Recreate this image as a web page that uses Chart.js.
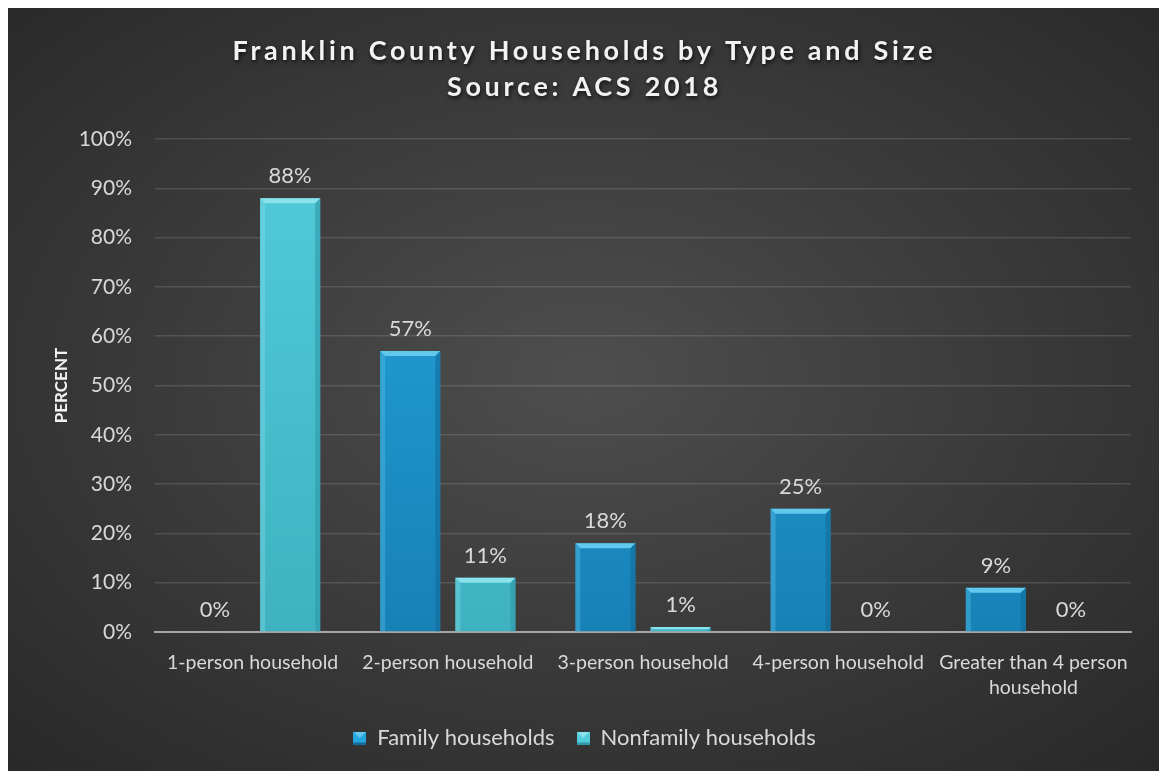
<!DOCTYPE html>
<html>
<head>
<meta charset="utf-8">
<script src="https://cdn.jsdelivr.net/npm/chart.js@4.4.1/dist/chart.umd.min.js"></script>
<style>
  html, body { margin: 0; padding: 0; background: #ffffff; overflow: hidden; }
  #frame {
    position: fixed; left: 8px; top: 8px; right: 0; bottom: 0;
    background: radial-gradient(ellipse 75% 75% at 50% 48%, #4e4e4e 0%, #3c3c3c 45%, #272727 100%);
  }
</style>
</head>
<body>
<div id="frame"><canvas id="households"></canvas></div>
<script>
const categories = [
  "1-person household",
  "2-person household",
  "3-person household",
  "4-person household",
  ["Greater than 4 person", "household"]
];
const familyValues = [0, 57, 18, 25, 9];
const nonfamilyValues = [88, 11, 1, 0, 0];
const yTicks = [0, 10, 20, 30, 40, 50, 60, 70, 80, 90, 100];
const titleLines = ["Franklin County Households by Type and Size", "Source: ACS 2018"];

const FONT = "Lato, 'Open Sans', sans-serif";
const TEXT = "#d9d9d9";

const palette = {
  family: { top: "#24a6de", bottom: "#1781b6", light: "#62c8ee", dark: "#136c99" },
  nonfamily: { top: "#52cbdb", bottom: "#3eb2c1", light: "#8ae2ec", dark: "#2f98a6" }
};

function barGradient(colors) {
  return (ctx) => {
    const area = ctx.chart.chartArea;
    if (!area) return colors.top;
    const g = ctx.chart.ctx.createLinearGradient(0, area.top, 0, area.bottom);
    g.addColorStop(0, colors.top);
    g.addColorStop(1, colors.bottom);
    return g;
  };
}

// little bevelled square for the legend
function legendSwatch(colors) {
  const c = document.createElement("canvas");
  c.width = 13; c.height = 13;
  const g = c.getContext("2d");
  g.fillStyle = colors.top;
  g.fillRect(0, 0, 13, 13);
  g.fillStyle = colors.light;
  g.beginPath();
  g.moveTo(0, 0); g.lineTo(13, 0); g.lineTo(6.5, 6.5); g.closePath();
  g.fill();
  g.fillStyle = colors.dark;
  g.fillRect(0, 11, 13, 2);
  return c;
}

// bevel highlights on top of each bar
const bevelPlugin = {
  id: "bevel",
  afterDatasetsDraw(chart) {
    const ctx = chart.ctx;
    chart.data.datasets.forEach((ds, i) => {
      const colors = ds.bevelColors;
      chart.getDatasetMeta(i).data.forEach((bar) => {
        const left = bar.x - bar.width / 2, right = bar.x + bar.width / 2;
        const top = bar.y, bottom = bar.base;
        const h = bottom - top;
        if (h < 1) return;
        const b = Math.min(5, h / 2);
        ctx.save();
        // top face
        ctx.fillStyle = colors.light;
        ctx.beginPath();
        ctx.moveTo(left, top); ctx.lineTo(right, top);
        ctx.lineTo(right - b, top + b); ctx.lineTo(left + b, top + b);
        ctx.closePath(); ctx.fill();
        // left edge
        ctx.globalAlpha = 0.35;
        ctx.beginPath();
        ctx.moveTo(left, top); ctx.lineTo(left + b, top + b);
        ctx.lineTo(left + b, bottom); ctx.lineTo(left, bottom);
        ctx.closePath(); ctx.fill();
        // right edge
        ctx.globalAlpha = 0.6;
        ctx.fillStyle = colors.dark;
        ctx.beginPath();
        ctx.moveTo(right, top); ctx.lineTo(right - b, top + b);
        ctx.lineTo(right - b, bottom); ctx.lineTo(right, bottom);
        ctx.closePath(); ctx.fill();
        ctx.restore();
      });
    });
  }
};

// percentage labels above the bars
const valueLabels = {
  id: "valueLabels",
  afterDatasetsDraw(chart) {
    const ctx = chart.ctx;
    ctx.save();
    ctx.font = "22px " + FONT;
    ctx.fillStyle = TEXT;
    ctx.textAlign = "center";
    ctx.textBaseline = "middle";
    chart.data.datasets.forEach((ds, i) => {
      chart.getDatasetMeta(i).data.forEach((bar, j) => {
        ctx.fillText(ds.data[j] + "%", bar.x, bar.y - 22);
      });
    });
    ctx.restore();
  }
};

// spaced, shadowed two-line title
const titlePlugin = {
  id: "spacedTitle",
  afterDraw(chart) {
    const ctx = chart.ctx;
    ctx.save();
    ctx.font = "bold 27px " + FONT;
    ctx.letterSpacing = "3.7px";
    ctx.textAlign = "center";
    ctx.textBaseline = "middle";
    ctx.fillStyle = "#f2f2f2";
    ctx.shadowColor = "rgba(0,0,0,0.75)";
    ctx.shadowBlur = 4;
    ctx.shadowOffsetX = 1;
    ctx.shadowOffsetY = 2;
    const cx = chart.width / 2 + 1;
    titleLines.forEach((line, k) => ctx.fillText(line, cx, 43 + k * 36));
    ctx.restore();
  }
};

new Chart(document.getElementById("households"), {
  type: "bar",
  data: {
    labels: categories,
    datasets: [
      {
        label: "Family households",
        data: familyValues,
        backgroundColor: barGradient(palette.family),
        bevelColors: palette.family,
        pointStyle: legendSwatch(palette.family)
      },
      {
        label: "Nonfamily households",
        data: nonfamilyValues,
        backgroundColor: barGradient(palette.nonfamily),
        bevelColors: palette.nonfamily,
        pointStyle: legendSwatch(palette.nonfamily)
      }
    ]
  },
  options: {
    responsive: true,
    maintainAspectRatio: false,
    animation: false,
    categoryPercentage: 0.77,
    barPercentage: 0.8,
    layout: { padding: { top: 131, right: 28, left: 30, bottom: 12 } },
    scales: {
      x: {
        grid: { display: false, drawTicks: false },
        border: { color: "#a6a6a6", width: 2 },
        ticks: { color: TEXT, font: { family: FONT, size: 19.5, lineHeight: 1.3 }, padding: 18, maxRotation: 0, autoSkip: false },
        afterFit(scale) { scale.height = 73; }
      },
      y: {
        min: 0,
        max: 100,
        afterBuildTicks(scale) { scale.ticks = yTicks.map((v) => ({ value: v })); },
        grid: { color: "rgba(255,255,255,0.13)", lineWidth: 1.5, drawTicks: false },
        border: { display: false },
        ticks: { color: TEXT, font: { family: FONT, size: 21 }, padding: 23, callback: (v) => v + "%" },
        title: { display: true, text: "PERCENT", color: "#f2f2f2", font: { family: FONT, size: 17, weight: "bold" }, padding: { top: 13, bottom: 0 } },
        afterFit(scale) { scale.width = 117; }
      }
    },
    plugins: {
      title: { display: false },
      tooltip: { enabled: false },
      legend: {
        position: "bottom",
        labels: {
          color: TEXT,
          font: { family: FONT, size: 22 },
          usePointStyle: true,
          pointStyleWidth: 13,
          boxWidth: 13,
          boxHeight: 13,
          padding: 22
        }
      }
    }
  },
  plugins: [bevelPlugin, valueLabels, titlePlugin]
});
</script>
</body>
</html>
